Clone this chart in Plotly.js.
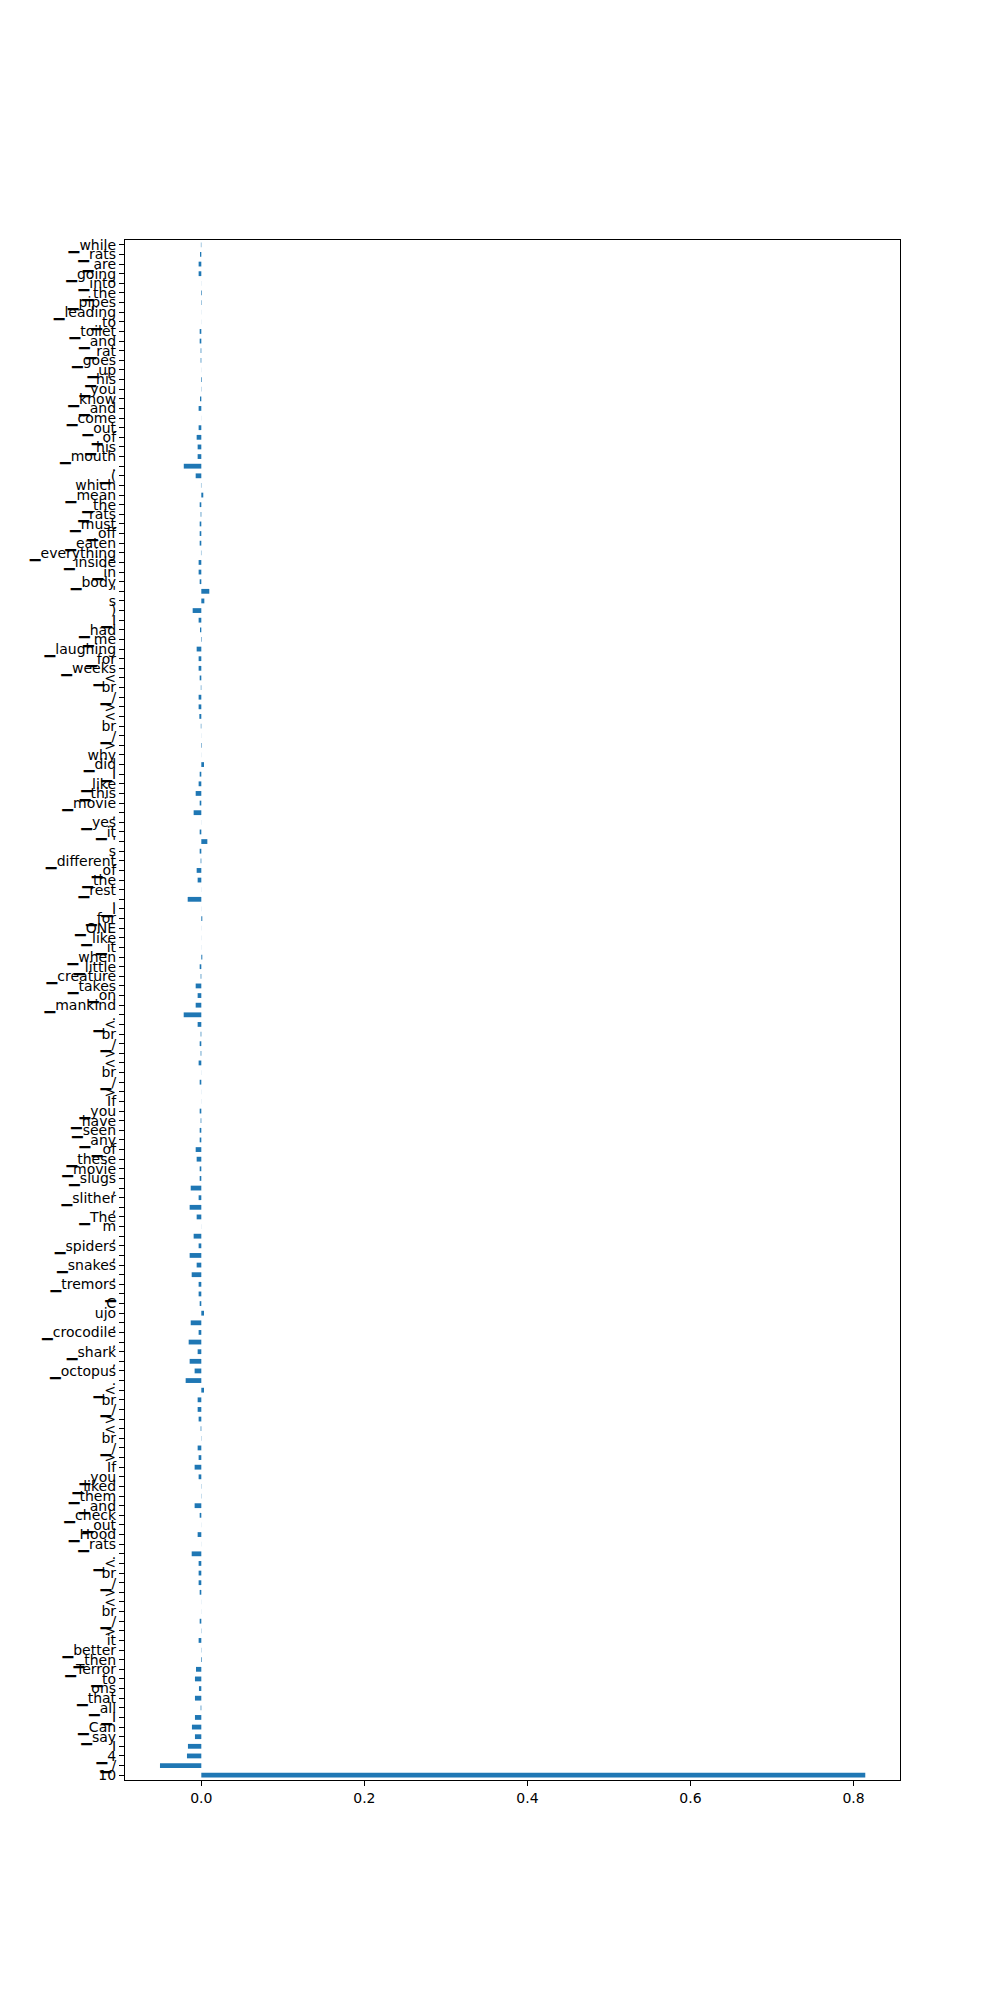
<!DOCTYPE html>
<html>
<head>
<meta charset="utf-8">
<script src="https://cdn.plot.ly/plotly-3.0.1.min.js"></script>
<style>
  body { margin: 0; background: white; }
  #token_chart { width: 1000px; height: 2000px; }
</style>
</head>
<body>
<div id="token_chart"></div>
<script>
// tokens, read top to bottom as they appear on the chart
var token_list = [
    "\u2581while", "\u2581rats", "\u2581are", "\u2581going", "\u2581into", "\u2581the", "\u2581pipes", "\u2581leading", "\u2581to", "\u2581toilet",
    "\u2581and", "\u2581rat", "\u2581goes", "\u2581up", "\u2581his", "\u2581you", "\u2581know", "\u2581and", "\u2581come", "\u2581out",
    "\u2581of", "\u2581his", "\u2581mouth", ".", "\u2581(", "which", "\u2581mean", "\u2581the", "\u2581rats", "\u2581must",
    "\u2581off", "\u2581eaten", "\u2581everything", "\u2581inside", "\u2581in", "\u2581body", "'", "s", ")", "\u2581I",
    "\u2581had", "\u2581me", "\u2581laughing", "\u2581for", "\u2581weeks", "\u2581<", "br", "\u2581/", ">", "<",
    "br", "\u2581/", ">", "why", "\u2581did", "\u2581I", "\u2581like", "\u2581this", "\u2581movie", ",",
    "\u2581yes", "\u2581it", "'", "s", "\u2581different", "\u2581of", "\u2581the", "\u2581rest", ".", "\u2581I",
    "\u2581for", "\u2581ONE", "\u2581like", "\u2581it", "\u2581when", "\u2581little", "\u2581creature", "\u2581takes", "\u2581on", "\u2581mankind",
    ".", "\u2581<", "br", "\u2581/", ">", "<", "br", "\u2581/", ">", "If",
    "\u2581you", "\u2581have", "\u2581seen", "\u2581any", "\u2581of", "\u2581these", "\u2581movie", "\u2581slugs", ",", "\u2581slither",
    ",", "\u2581The", "m", ",", "\u2581spiders", ",", "\u2581snakes", ",", "\u2581tremors", "\u2581",
    "C", "ujo", ",", "\u2581crocodile", ",", "\u2581shark", ",", "\u2581octopus", ".", "\u2581<",
    "br", "\u2581/", ">", "<", "br", "\u2581/", ">", "If", "\u2581you", "\u2581liked",
    "\u2581them", "\u2581and", "\u2581check", "\u2581out", "\u2581Hood", "\u2581rats", ".", "\u2581<", "br", "\u2581/",
    ">", "<", "br", "\u2581/", ">", "it", "\u2581better", "\u2581then", "\u2581Terror", "\u2581to",
    "ons", "\u2581that", "\u2581all", "\u2581I", "\u2581Can", "\u2581say", "I", "\u25814", "\u2581/", "10"
];

var score_list = [
    -0.0005, -0.0016, -0.0033, -0.0033, 0.0001, 0.0008, 0.0005, 0.0001, 0.0001, -0.0020,
    -0.0020, -0.0008, -0.0008, 0.0001, 0.0008, -0.0003, -0.0016, -0.0033, 0.0001, -0.0033,
    -0.0057, -0.0045, -0.0045, -0.0215, -0.0069, -0.0004, 0.0024, -0.0020, -0.0008, -0.0020,
    -0.0020, -0.0020, -0.0004, -0.0033, -0.0033, -0.0020, 0.0098, 0.0037, -0.0106, -0.0033,
    -0.0016, 0.0006, -0.0057, -0.0033, -0.0033, -0.0020, -0.0006, -0.0033, -0.0033, -0.0024,
    -0.0006, 0.0001, 0.0006, 0.0001, 0.0033, -0.0020, -0.0033, -0.0069, -0.0020, -0.0094,
    0.0001, -0.0020, 0.0074, -0.0020, -0.0008, -0.0057, -0.0045, 0.0001, -0.0167, 0.0001,
    0.0012, 0.0001, 0.0001, 0.0001, 0.0012, -0.0020, -0.0008, -0.0069, -0.0045, -0.0069,
    -0.0216, -0.0045, -0.0008, -0.0020, -0.0008, -0.0033, 0.0001, -0.0020, 0.0001, 0.0001,
    -0.0020, -0.0008, -0.0020, -0.0020, -0.0069, -0.0057, -0.0020, -0.0020, -0.0130, -0.0033,
    -0.0143, -0.0057, 0.0001, -0.0094, -0.0033, -0.0143, -0.0057, -0.0118, -0.0033, -0.0033,
    -0.0020, 0.0033, -0.0130, -0.0033, -0.0155, -0.0045, -0.0143, -0.0082, -0.0192, 0.0033,
    -0.0045, -0.0045, -0.0033, -0.0008, -0.0003, -0.0045, -0.0033, -0.0082, -0.0033, -0.0003,
    -0.0003, -0.0082, -0.0020, 0.0001, -0.0045, 0.0001, -0.0118, -0.0033, -0.0033, -0.0033,
    -0.0020, 0.0001, 0.0001, -0.0020, -0.0003, -0.0033, -0.0003, 0.0008, -0.0065, -0.0078,
    -0.0029, -0.0078, -0.0008, -0.0078, -0.0115, -0.0078, -0.0164, -0.0176, -0.0507, 0.8144
];

var x_tick_values = [0, 0.2, 0.4, 0.6, 0.8];
var x_tick_labels = ["0.0", "0.2", "0.4", "0.6", "0.8"];

// first token sits on top, like the barh plot
var n = token_list.length;
var position_list = [];
for (i = 0; i < n; i++) {
    position_list.push(n - 1 - i);
}

var trace1 = {
    x: score_list,
    y: position_list,
    orientation: 'h',
    width: 0.5,
    marker: {
        color: '#1f77b4',
        line: {width: 0}
    },
    hoverinfo: 'x',
    type: 'bar'
};

var layout = {
    width: 1000,
    height: 2000,
    margin: {
        t: 240,
        l: 125,
        r: 100,
        b: 220,
        pad: 0
    },
    showlegend: false,
    paper_bgcolor: 'white',
    plot_bgcolor: 'white',
    font: {
        family: 'DejaVu Sans',
        size: 14,
        color: 'black'
    },
    xaxis: {
        range: [-0.0936, 0.857],
        tickvals: x_tick_values,
        ticktext: x_tick_labels,
        showgrid: false,
        zeroline: false,
        showline: true,
        mirror: true,
        linecolor: 'black',
        linewidth: 1.1,
        ticks: 'outside',
        ticklen: 5,
        tickwidth: 1.1,
        tickcolor: 'black',
        tickfont: {size: 14}
    },
    yaxis: {
        range: [-0.5, n - 0.5],
        tickvals: position_list,
        ticktext: token_list,
        showgrid: false,
        zeroline: false,
        showline: true,
        mirror: true,
        linecolor: 'black',
        linewidth: 1.1,
        ticks: 'outside',
        ticklen: 5,
        tickwidth: 1.1,
        tickcolor: 'black',
        tickfont: {size: 14}
    }
};

var data = [trace1];
Plotly.newPlot('token_chart', data, layout, {displayModeBar: false, showTips: false, staticPlot: true});
</script>
</body>
</html>
